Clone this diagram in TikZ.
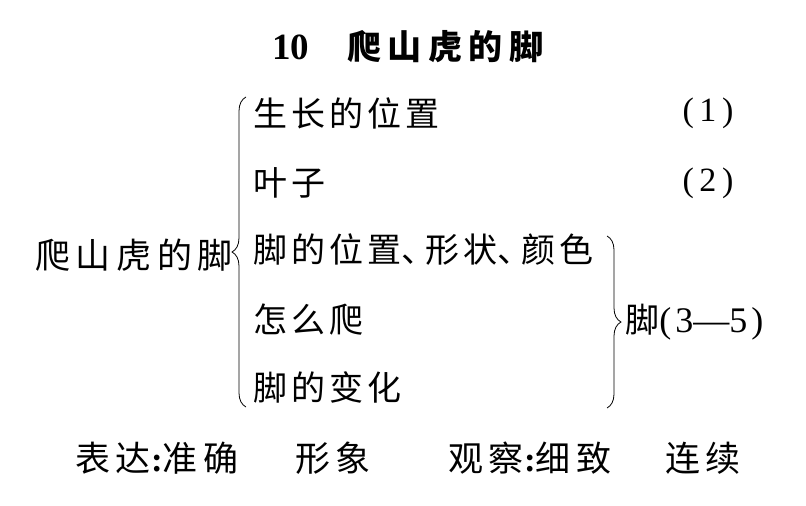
\documentclass[tikz,border=0pt]{standalone}
\usepackage{fontspec}
\setmainfont{Liberation Serif}
\newfontfamily\cjk[LetterSpace=12]{Noto Sans CJK SC}
\newfontfamily\cjkwide[LetterSpace=16]{Noto Sans CJK SC}
\newfontfamily\cjktitle[LetterSpace=19]{Noto Sans CJK SC}
\usetikzlibrary{decorations.pathreplacing}

\newcommand\dunhao{\makebox[24pt][l]{、}}

\tikzset{every picture/.style={line width=0.8pt}}

\begin{document}
\begin{tikzpicture}[x=1pt,y=1pt,yscale=-1,xscale=1,
  item/.style={anchor=west,inner sep=0pt,font=\cjk\fontsize{34}{40}\selectfont},
  wide/.style={anchor=west,inner sep=0pt,font=\cjkwide\fontsize{35}{40}\selectfont},
  num/.style={inner sep=0pt,font=\fontsize{34}{40}\selectfont},
  curly/.style={decorate,decoration={brace,amplitude=14pt,aspect=0.5}}]
\path[use as bounding box] (0,0) rectangle (806,506);

% Text Node
\draw (272,47) node [anchor=west,inner sep=0pt,font=\fontsize{37}{44}\selectfont] (title) {\bfseries 10\hspace{38pt}{\cjktitle\fontsize{34}{44}\selectfont\bfseries 爬山虎的脚}};

% Text Node
\draw (35,255) node [wide] (root) {爬山虎的脚};

% Text Node
\draw (253,113) node [item] (place) {生长的位置};
% Text Node
\draw (253,183) node [item] (leaf) {叶子};
% Text Node
\draw (253,250) node [item] (shape) {脚的位置\dunhao 形状\dunhao 颜色};
% Text Node
\draw (253,320) node [item] (climb) {怎么爬};
% Text Node
\draw (253,387) node [item] (change) {脚的变化};

% Text Node
\draw (708,113) node [num] (para1) {(\,1\,)};
% Text Node
\draw (708,183) node [num] (para2) {(\,2\,)};
% Text Node
\draw (625,322) node [item] (foot) {脚\normalfont\fontsize{36}{40}\selectfont(\hspace{4pt}3—5\hspace{4pt})};

% Text Node
\draw (75,458) node [wide] (express) {表达{\normalfont\bfseries:}准确};
% Text Node
\draw (295,458) node [wide] (vivid) {形象};
% Text Node
\draw (448,458) node [wide] (observe) {观察{\normalfont\bfseries:}细致};
% Text Node
\draw (665,458) node [wide] (steady) {连续};

%Shape: Brace
\coordinate (lbtop) at (246,97);
\coordinate (lbbot) at (246,407);
\draw [curly] (lbbot) -- (lbtop);

%Shape: Brace
\coordinate (rbtop) at (607,236);
\coordinate (rbbot) at (607,408);
\draw [curly] (rbtop) -- (rbbot);

\end{tikzpicture}
\end{document}
